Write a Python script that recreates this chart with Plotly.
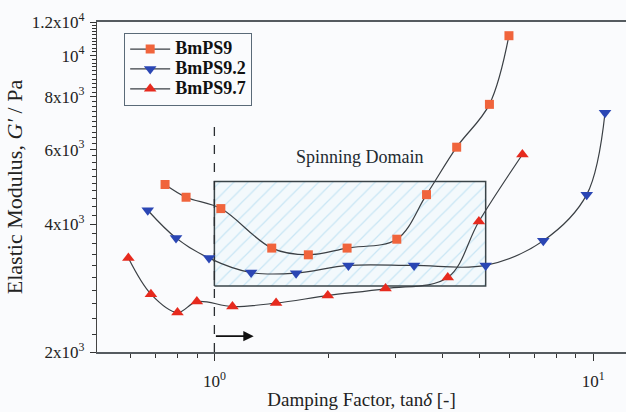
import numpy as np
import plotly.graph_objects as go

# ---- data ----
bm9_x = [0.741, 0.842, 1.04, 1.417, 1.77, 2.24, 3.03, 3.63, 4.36, 5.32, 5.99]
bm9_y = [4966, 4634, 4357, 3516, 3390, 3516, 3690, 4700, 6081, 7673, 11140]

bm92_x = [0.667, 0.792, 0.968, 1.25, 1.643, 2.258, 3.365, 5.20, 7.38, 9.61, 10.74]
bm92_y = [4318, 3715, 3330, 3079, 3069, 3200, 3200, 3200, 3660, 4700, 7333]

bm97_x = [0.593, 0.680, 0.799, 0.899, 1.116, 1.455, 1.992, 2.83, 4.13, 4.99, 6.50]
bm97_y = [3330, 2738, 2478, 2630, 2560, 2608, 2717, 2822, 2997, 4063, 5845]

y_tickvals = [2000, 4000, 6000, 8000, 10000, 12000]
y_ticktext = ["2x10<sup>3</sup>", "4x10<sup>3</sup>", "6x10<sup>3</sup>",
              "8x10<sup>3</sup>", "10<sup>4</sup>", "1.2x10<sup>4</sup>"]
y_minor = [v for v in range(2200, 12000, 200) if v not in y_tickvals]
x_tickvals = [1, 10]
x_ticktext = ["10<sup>0</sup>", "10<sup>1</sup>"]
x_minor = [0.6, 0.7, 0.8, 0.9, 2, 3, 4, 5, 6, 7, 8, 9]

domain_x = [1.0, 5.2]
domain_y = [2860, 5050]
dash_x = 1.0
dash_y = [2000, 7000]
arrow_x = [1.0, 1.27]
arrow_y = 2180

FONT = "Liberation Serif, Times New Roman, serif"
LINE = "#3a3f44"

fig = go.Figure()

# spinning domain rectangle (hatched)
fig.add_trace(go.Scatter(
    x=[domain_x[0], domain_x[1], domain_x[1], domain_x[0], domain_x[0]],
    y=[domain_y[0], domain_y[0], domain_y[1], domain_y[1], domain_y[0]],
    mode="lines", fill="toself",
    fillcolor="rgba(240,248,252,1)",
    fillpattern=dict(shape="/", fgcolor="#9dd3ec", bgcolor="#f3f9fc", size=10, solidity=0.12),
    line=dict(color="#3a4448", width=1.5),
    showlegend=False, hoverinfo="skip"))

# dashed vertical line
fig.add_trace(go.Scatter(x=[dash_x, dash_x], y=dash_y, mode="lines",
                         line=dict(color="#2a2e32", width=1.3, dash="dash"),
                         showlegend=False, hoverinfo="skip"))

series = [
    ("BmPS9", bm9_x, bm9_y, "square", 9, "#f0643c"),
    ("BmPS9.2", bm92_x, bm92_y, "triangle-down", 11, "#2a46b4"),
    ("BmPS9.7", bm97_x, bm97_y, "triangle-up", 11, "#e62a1e"),
]
for name, xs, ys, sym, sz, col in series:
    fig.add_trace(go.Scatter(
        x=xs, y=ys, name="<span style='font-size:18px'>" + name + "</span>",
        mode="lines+markers",
        line=dict(color=LINE, width=1.2, shape="spline", smoothing=1.0),
        marker=dict(symbol=sym, size=sz, color=col, line=dict(width=0))))

fig.add_annotation(x=np.log10(arrow_x[1]), y=np.log10(arrow_y),
                   ax=np.log10(arrow_x[0]), ay=np.log10(arrow_y),
                   xref="x", yref="y", axref="x", ayref="y",
                   showarrow=True, arrowhead=2, arrowsize=1.3, arrowwidth=1.6,
                   arrowcolor="#111111", text="")

fig.add_annotation(x=np.log10(2.42), y=np.log10(5780), text="Spinning Domain",
                   showarrow=False, font=dict(family=FONT, size=18, color="#222a30"))

fig.update_layout(
    width=626, height=412,
    margin=dict(l=97, r=0, t=22, b=60),
    paper_bgcolor="#fafbfd", plot_bgcolor="#fafbfd",
    font=dict(family=FONT, size=15, color="#222"),
    showlegend=True,
    legend=dict(x=0.051, y=0.967, xanchor="left", yanchor="top",
                bgcolor="rgba(250,251,253,1)", bordercolor="#5a6a78", borderwidth=1.2,
                font=dict(family=FONT, size=13, color="#111", weight="bold"),
                itemwidth=40, tracegroupgap=0),
)

fig.update_xaxes(type="log", range=[np.log10(0.49), np.log10(12.2)],
                 tickvals=x_tickvals, ticktext=x_ticktext,
                 ticks="outside", ticklen=7, tickwidth=1.3, tickcolor="#333",
                 showline=True, linecolor="#555b60", linewidth=1.6, mirror=True,
                 showgrid=False, zeroline=False, ticklabelstandoff=6,
                 tickfont=dict(family=FONT, size=17, color="#222"),
                 minor=dict(tickmode="array", tickvals=x_minor, ticks="outside",
                            ticklen=4, tickwidth=1.2, tickcolor="#333", showgrid=False),
                 title=dict(text="Damping Factor, tan<i>δ</i> [-]", standoff=2,
                            font=dict(family=FONT, size=19, color="#222")))

fig.update_yaxes(type="log", range=[np.log10(2000), np.log10(12000)],
                 tickvals=y_tickvals, ticktext=y_ticktext,
                 ticks="outside", ticklen=6, tickwidth=1.3, tickcolor="#333",
                 showline=True, linecolor="#444", linewidth=1.4,
                 showgrid=False, zeroline=False, ticklabelstandoff=2,
                 tickfont=dict(family=FONT, size=17, color="#222"),
                 minor=dict(tickmode="array", tickvals=y_minor, ticks="outside",
                            ticklen=4, tickwidth=1.1, tickcolor="#333", showgrid=False),
                 title=dict(text="Elastic Modulus, <i>G′</i> / Pa", standoff=2,
                            font=dict(family=FONT, size=22, color="#222")))

fig.write_html("out.html")
